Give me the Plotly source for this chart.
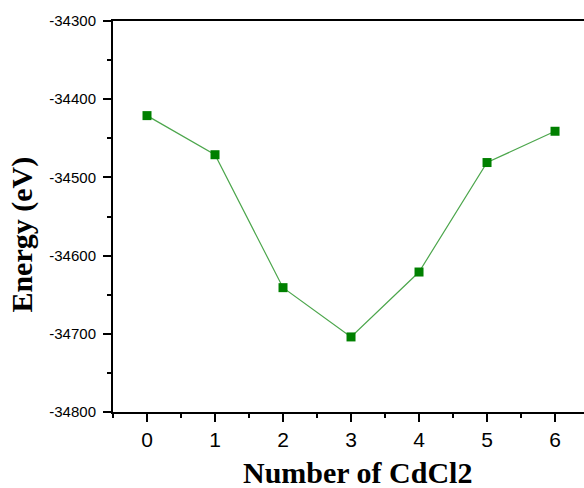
import plotly.graph_objects as go

num_cdcl2 = [0, 1, 2, 3, 4, 5, 6]
energy_ev = [-34421, -34471, -34641, -34704, -34621, -34481, -34441]
y_ticks = [-34800, -34700, -34600, -34500, -34400, -34300]
x_ticks = [0, 1, 2, 3, 4, 5, 6]

fig = go.Figure()
fig.add_trace(go.Scatter(
    x=num_cdcl2, y=energy_ev, mode="lines+markers",
    line=dict(color="#4ca64c", width=1.2),
    marker=dict(symbol="square", size=9, color="#008000", line=dict(width=0)),
    showlegend=False,
))

fig.update_layout(
    width=584, height=488,
    margin=dict(l=113, r=0, t=21, b=76),
    paper_bgcolor="white", plot_bgcolor="white",
    xaxis=dict(
        range=[-0.5, 6.426], tickvals=x_ticks, ticktext=[str(v) for v in x_ticks],
        showline=True, linecolor="black", linewidth=2, mirror=True,
        ticks="outside", ticklen=8, tickwidth=2, tickcolor="black",
        minor=dict(dtick=0.5, tick0=0, ticks="outside", ticklen=4, tickwidth=2, tickcolor="black"),
        showgrid=False, zeroline=False,
        tickfont=dict(family="Liberation Sans, Arial", size=21, color="black"),
        ticklabelstandoff=0,
    ),
    yaxis=dict(
        range=[-34800, -34300], tickvals=y_ticks, ticktext=[str(v) for v in y_ticks],
        showline=True, linecolor="black", linewidth=2, mirror=False,
        ticks="outside", ticklen=8, tickwidth=2, tickcolor="black",
        minor=dict(dtick=50, tick0=-34800, ticks="outside", ticklen=4, tickwidth=2, tickcolor="black"),
        showgrid=False, zeroline=False,
        tickfont=dict(family="Liberation Sans, Arial", size=15, color="black"),
        ticklabelstandoff=4,
    ),
    annotations=[
        dict(text="<b>Energy (eV)</b>", xref="paper", yref="paper", x=-0.193, y=0.454,
             xanchor="center", yanchor="middle", textangle=-90, showarrow=False,
             font=dict(family="Liberation Serif, Times New Roman", size=30, color="black")),
        dict(text="<b>Number of CdCl2</b>", xref="paper", yref="paper", x=0.520, y=-0.156,
             xanchor="center", yanchor="middle", showarrow=False,
             font=dict(family="Liberation Serif, Times New Roman", size=30, color="black")),
    ],
)

fig.write_html("out.html")
